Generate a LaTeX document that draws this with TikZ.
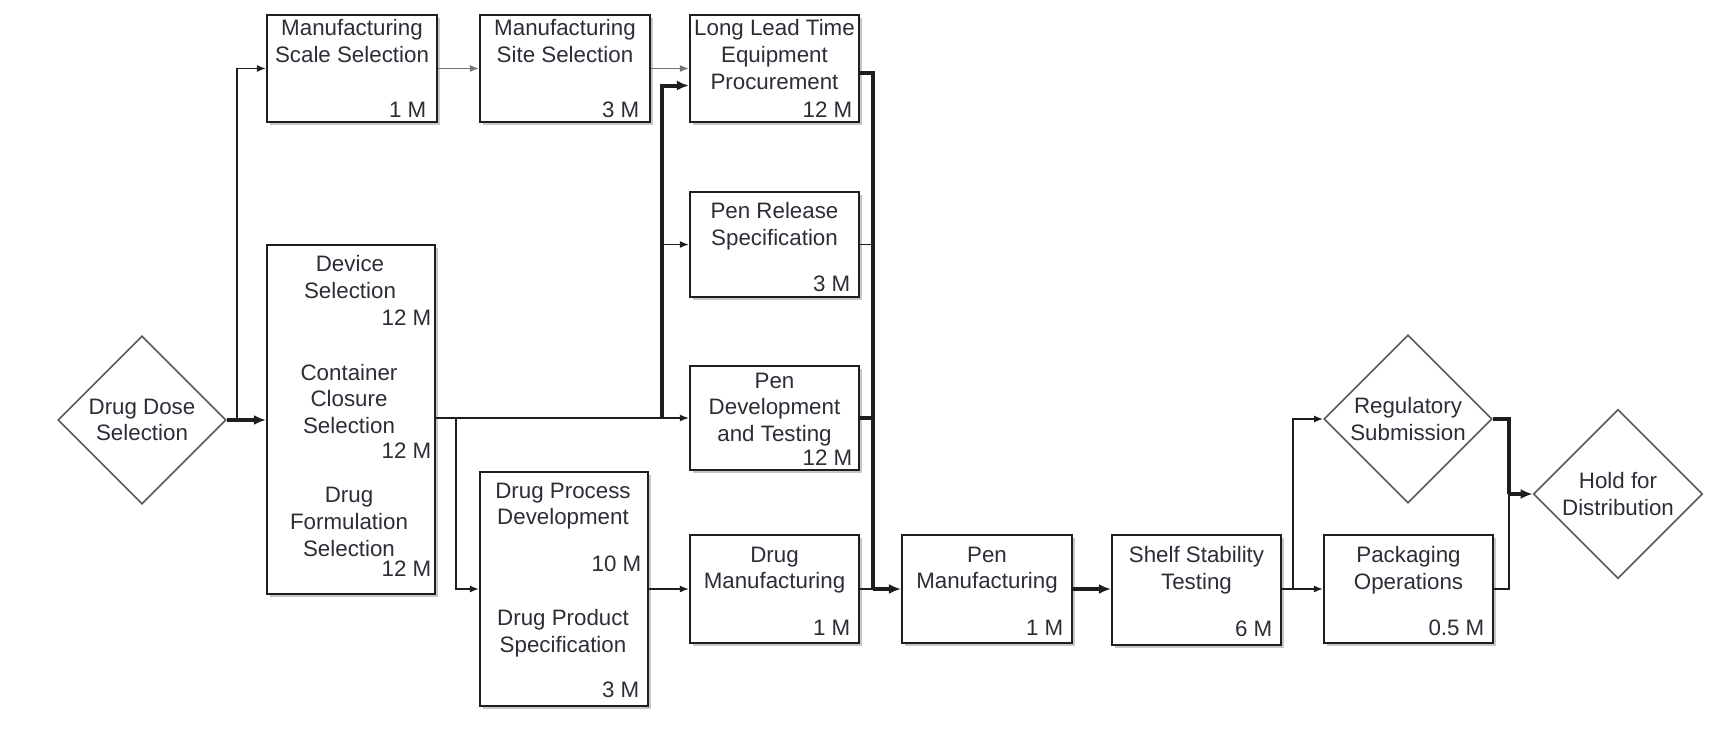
\documentclass[tikz,border=0pt]{standalone}
\usepackage{fontspec}
\setmainfont{Liberation Sans}
\usepackage{tikz}
\usetikzlibrary{shapes.geometric, positioning, shadows, arrows.meta}

\definecolor{txt}{RGB}{45,45,55}
\definecolor{edge}{RGB}{30,30,30}
\definecolor{lgray}{RGB}{115,115,115}

\begin{document}
\begin{tikzpicture}[
        x=0.01cm, y=-0.01cm,
        every node/.style={align=center, font=\fontsize{6.35}{7.6}\selectfont, text=txt},
        task/.style={draw=edge, line width=0.02cm, fill=white, inner sep=0pt,
            drop shadow={shadow xshift=0.03cm, shadow yshift=-0.03cm, fill=black!22, opacity=1}},
        gate/.style={draw=black!65, line width=0.016cm, diamond, aspect=1, inner sep=0pt, minimum size=1.68cm},
        ttl/.style={inner sep=0pt},
        dur/.style={inner sep=0pt},
        thn/.style={draw=edge, line width=0.016cm, >={Latex[length=0.09cm, width=0.07cm]}},
        thk/.style={draw=edge, line width=0.04cm, >={Latex[length=0.12cm, width=0.1cm]}},
        gry/.style={draw=lgray, line width=0.016cm, >={Latex[length=0.09cm, width=0.07cm]}}
    ]
    \useasboundingbox (0,0) rectangle (1711,733);

    % decision points
    \node[gate] (dose) at (142,420) {Drug Dose\\Selection};
    \node[gate] (reg) at (1408,419) {Regulatory\\Submission};
    \node[gate, minimum size=1.69cm] (hold) at (1618,494) {Hold for\\Distribution};

    % top row
    \node[task, minimum width=1.70cm, minimum height=1.07cm] (scale) at (352,68.5) {};
    \node[ttl, below=0.05cm of scale.north] (scalet) {Manufacturing\\Scale Selection};
    \node[dur, above left=0.05cm and 0.11cm of scale.south east] (scaled) {1 M};

    \node[task, minimum width=1.70cm, minimum height=1.07cm] (site) at (565,68.5) {};
    \node[ttl, below=0.05cm of site.north] (sitet) {Manufacturing\\Site Selection};
    \node[dur, above left=0.05cm and 0.11cm of site.south east] (sited) {3 M};

    \node[task, minimum width=1.69cm, minimum height=1.07cm] (lead) at (774.5,68.5) {};
    \node[ttl, below=0.05cm of lead.north] (leadt) {Long Lead Time\\Equipment\\Procurement};
    \node[dur, above left=0.05cm and 0.07cm of lead.south east] (leadd) {12 M};

    % pen column
    \node[task, minimum width=1.69cm, minimum height=1.05cm] (release) at (774.5,244.5) {};
    \node[ttl, below=0.11cm of release.north] (releaset) {Pen Release\\Specification};
    \node[dur, above left=0.06cm and 0.09cm of release.south east] (released) {3 M};

    \node[task, minimum width=1.69cm, minimum height=1.04cm] (pendev) at (774.5,418) {};
    \node[ttl, below=0.07cm of pendev.north] (pendevt) {Pen\\Development\\and Testing};
    \node[dur, above left=0.05cm and 0.07cm of pendev.south east] (pendevd) {12 M};

    \node[task, minimum width=1.69cm, minimum height=1.08cm] (drugmfg) at (774.5,589) {};
    \node[ttl, below=0.12cm of drugmfg.north] (drugmfgt) {Drug\\Manufacturing};
    \node[dur, above left=0.08cm and 0.09cm of drugmfg.south east] (drugmfgd) {1 M};

    % selections
    \node[task, minimum width=1.68cm, minimum height=3.49cm] (big) at (351,419.5) {};
    \node[ttl] (devt) at (350,277) {Device\\Selection};
    \node[dur, anchor=east] (devd) at (432,318) {12 M};
    \node[ttl] (cont) at (349,399) {Container\\Closure\\Selection};
    \node[dur, anchor=east] (cond) at (432,451) {12 M};
    \node[ttl] (fort) at (349,522) {Drug\\Formulation\\Selection};
    \node[dur, anchor=east] (ford) at (432,569) {12 M};

    \node[task, minimum width=1.68cm, minimum height=2.34cm] (proc) at (564,589) {};
    \node[ttl] (proct) at (563,506) {Drug Process\\Development};
    \node[dur, anchor=east] (procd) at (642,564) {10 M};
    \node[ttl] (spect) at (563,633) {Drug Product\\Specification};
    \node[dur, anchor=east] (specd) at (640,690) {3 M};

    % bottom row
    \node[task, minimum width=1.70cm, minimum height=1.08cm] (penmfg) at (987,589) {};
    \node[ttl, below=0.12cm of penmfg.north] (penmfgt) {Pen\\Manufacturing};
    \node[dur, above left=0.08cm and 0.09cm of penmfg.south east] (penmfgd) {1 M};

    \node[task, minimum width=1.69cm, minimum height=1.10cm] (shelf) at (1196.5,590) {};
    \node[ttl, below=0.12cm of shelf.north] (shelft) {Shelf Stability\\Testing};
    \node[dur, above left=0.09cm and 0.09cm of shelf.south east] (shelfd) {6 M};

    \node[task, minimum width=1.69cm, minimum height=1.08cm] (pack) at (1408.5,589) {};
    \node[ttl, below=0.12cm of pack.north] (packt) {Packaging\\Operations};
    \node[dur, above left=0.08cm and 0.09cm of pack.south east] (packd) {0.5 M};

    % junctions
    \coordinate (j1) at (237,420);
    \coordinate (j2) at (662,418);
    \coordinate (j3) at (456,418);
    \coordinate (j4) at (873,589);
    \coordinate (j5) at (1293,589);
    \coordinate (j6) at (1509,494);

    \draw[thk, ->] (dose.east) -- (dose.east -| big.west);
    \draw[thn, ->] (j1) |- (scale.west);
    \draw[gry, ->] (scale.east) -- (site.west);
    \draw[gry, ->] (site.east) -- (site.east -| lead.west);
    \draw[thn, ->] (big.east |- j2) -- (j2 -| pendev.west);
    \draw[thk, ->] (j2) |- ([yshift=-0.17cm]lead.west);
    \draw[thn, ->] (j2 |- release.west) -- (release.west);
    \draw[thn, ->] (j3) |- (proc.west);
    \draw[thn, ->] (proc.east |- drugmfg.west) -- (drugmfg.west);
    \draw[thk] ([yshift=-0.04cm]lead.east) -| (j4);
    \draw[thn] (release.east) -- (release.east -| j4);
    \draw[thk] (pendev.east) -- (pendev.east -| j4);
    \draw[thn] (drugmfg.east) -- (j4);
    \draw[thk, ->] (j4) -- (penmfg.west);
    \draw[thk, ->] (penmfg.east) -- (penmfg.east -| shelf.west);
    \draw[thn] (shelf.east |- j5) -- (j5);
    \draw[thn, ->] (j5) -- (pack.west);
    \draw[thn, ->] (j5) |- (reg.west);
    \draw[thk] (reg.east) -| (j6);
    \draw[thk, ->] (j6) -- (hold.west);
    \draw[thn] (pack.east) -| (j6);
\end{tikzpicture}
\end{document}
